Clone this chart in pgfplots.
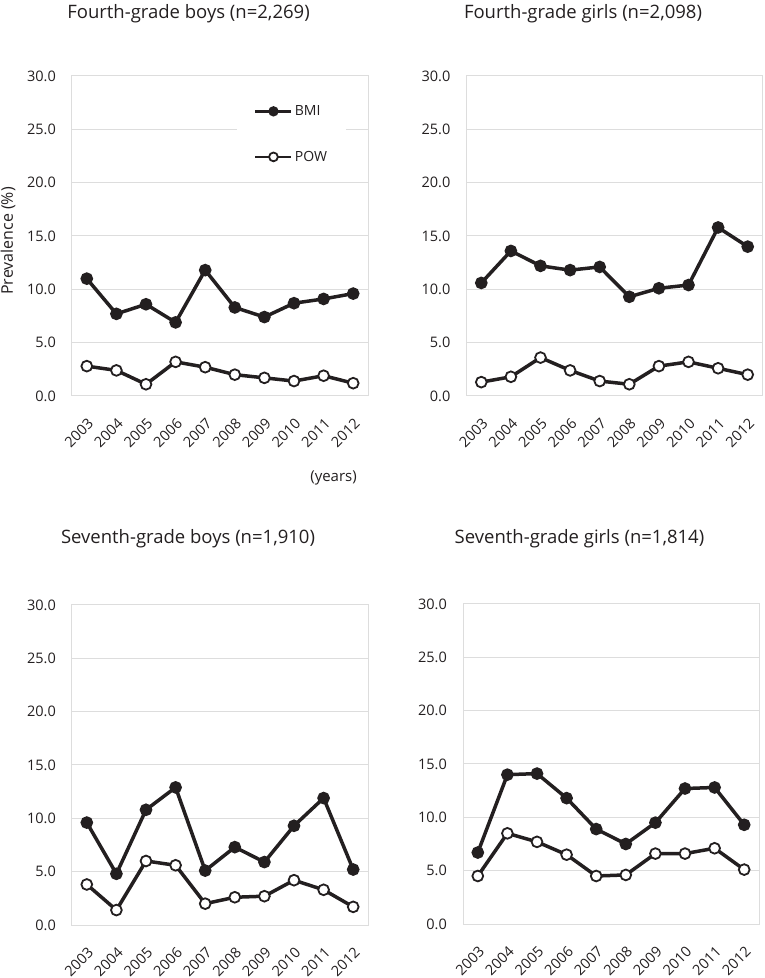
\documentclass[border=0pt]{standalone}
\usepackage{pgfplots}
\usepackage{pgfplotstable}
\pgfplotsset{compat=1.18}
\usepackage{fontspec}
\setmainfont{Open Sans}
\definecolor{ink}{HTML}{231F20}
\definecolor{gridc}{HTML}{DDDDDD}

\pgfplotstableread{
x bmi pow
0 11.0 2.8
1 7.7 2.4
2 8.6 1.1
3 6.9 3.2
4 11.8 2.7
5 8.3 2.0
6 7.4 1.7
7 8.7 1.4
8 9.1 1.9
9 9.6 1.2
}\fourboys
\pgfplotstableread{
x bmi pow
0 10.6 1.3
1 13.6 1.8
2 12.2 3.6
3 11.8 2.4
4 12.1 1.4
5 9.3 1.1
6 10.1 2.8
7 10.4 3.2
8 15.8 2.6
9 14.0 2.0
}\fourgirls
\pgfplotstableread{
x bmi pow
0 9.6 3.8
1 4.8 1.4
2 10.8 6.0
3 12.9 5.6
4 5.1 2.0
5 7.3 2.6
6 5.9 2.7
7 9.3 4.2
8 11.9 3.3
9 5.2 1.7
}\sevenboys
\pgfplotstableread{
x bmi pow
0 6.7 4.5
1 14.0 8.5
2 14.1 7.7
3 11.8 6.5
4 8.9 4.5
5 7.5 4.6
6 9.5 6.6
7 12.7 6.6
8 12.8 7.1
9 9.3 5.1
}\sevengirls

\pgfplotsset{
  panel/.style={
    scale only axis, width=296pt, height=320pt,
    xmin=-0.5, xmax=9.5, ymin=0, ymax=30,
    xtick={0,1,2,3,4,5,6,7,8,9},
    xticklabels={2003,2004,2005,2006,2007,2008,2009,2010,2011,2012},
    ytick={0,5,10,15,20,25,30},
    yticklabel={\pgfmathprintnumber[fixed,fixed zerofill,precision=1]{\tick}},
    /pgf/number format/assume math mode=true,
    ymajorgrids, major grid style={gridc, line width=1pt},
    axis line style={gridc, line width=1pt},
    major tick length=0pt,
    tick label style={font=\fontsize{14.5}{17}\selectfont, text=ink},
    yticklabel style={anchor=east, inner sep=0pt, xshift=-16pt},
    xticklabel style={inner sep=0pt, yshift=-25pt, xshift=4pt, rotate=45, anchor=east},
    clip=false,
    legend image code/.code={
      \draw[#1, line width=2.8pt, mark size=4.4pt, mark repeat=2, mark phase=2]
        plot coordinates {(0pt,0pt) (18pt,0pt) (36pt,0pt)};
    },
  },
  bmi/.style={ink, line width=3.5pt, mark=*, mark size=5.6pt,
    mark options={solid, fill=ink, draw=ink, line width=1.5pt}},
  pow/.style={ink, line width=3.5pt, mark=*, mark size=5.4pt,
    mark options={solid, fill=white, draw=ink, line width=1.8pt}},
}

\begin{document}
\begin{tikzpicture}[x=1pt,y=1pt]
\path[use as bounding box] (0,0) rectangle (764,978);

% Fourth-grade boys
\begin{axis}[panel, at={(72pt,582pt)}, anchor=south west,
  legend style={draw=none, fill=white, at={(rel axis cs:0.557,0.93)}, anchor=north west,
    inner xsep=17pt, inner ysep=5pt, row sep=30pt,
    font=\fontsize{14}{16}\selectfont, text=ink,
    nodes={inner sep=2pt}},
  legend cell align=left]
\addplot[bmi] table[x=x,y=bmi]{\fourboys};
\addplot[pow] table[x=x,y=pow]{\fourboys};
\legend{BMI,POW}
\end{axis}

% Fourth-grade girls
\begin{axis}[panel, at={(466.5pt,582pt)}, anchor=south west]
\addplot[bmi] table[x=x,y=bmi]{\fourgirls};
\addplot[pow] table[x=x,y=pow]{\fourgirls};
\end{axis}

% Seventh-grade boys
\begin{axis}[panel, at={(72pt,53pt)}, anchor=south west]
\addplot[bmi] table[x=x,y=bmi]{\sevenboys};
\addplot[pow] table[x=x,y=pow]{\sevenboys};
\end{axis}

% Seventh-grade girls
\begin{axis}[panel, at={(463pt,54pt)}, anchor=south west]
\addplot[bmi] table[x=x,y=bmi]{\sevengirls};
\addplot[pow] table[x=x,y=pow]{\sevengirls};
\end{axis}

\begin{scope}[every node/.style={text=ink, inner sep=0pt}]
\node[anchor=base, font=\fontsize{18.5}{22}\selectfont] at (188.5,959) {Fourth-grade boys (n=2,269)};
\node[anchor=base, font=\fontsize{18.5}{22}\selectfont] at (583,959) {Fourth-grade girls (n=2,098)};
\node[anchor=base, font=\fontsize{18.5}{22}\selectfont] at (188,434) {Seventh-grade boys (n=1,910)};
\node[anchor=base, font=\fontsize{18.5}{22}\selectfont] at (579.5,434) {Seventh-grade girls (n=1,814)};
\node[anchor=east, font=\fontsize{15}{18}\selectfont] at (357,500) {(years)};
\node[rotate=90, font=\fontsize{16}{19}\selectfont] at (8,737) {Prevalence (\%)};
\end{scope}
\end{tikzpicture}
\end{document}
